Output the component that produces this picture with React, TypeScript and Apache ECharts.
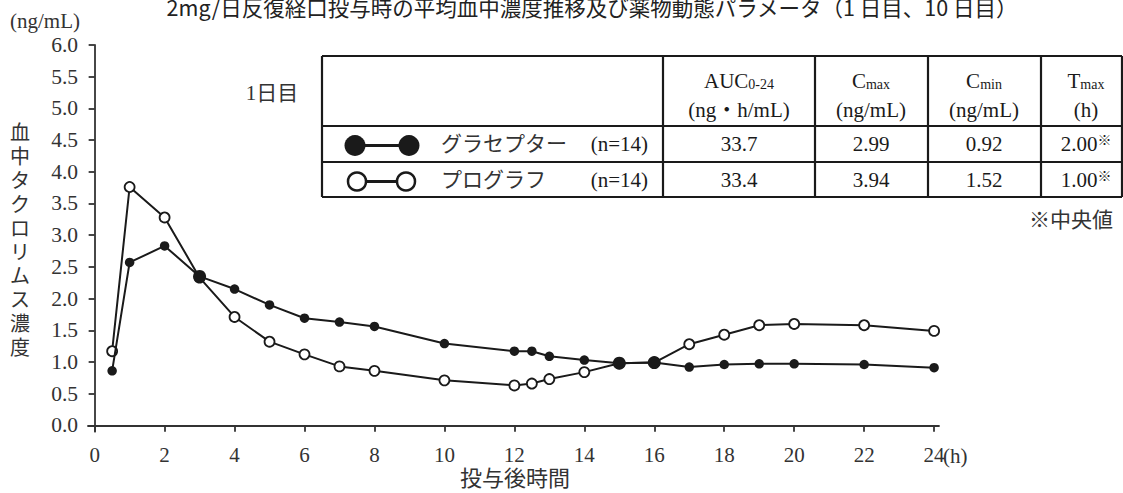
import React, { useEffect, useRef } from 'react';
import * as echarts from 'echarts';

// ---- data ----
const times = [0.5, 1, 2, 3, 4, 5, 6, 7, 8, 10, 12, 12.5, 13, 14, 15, 16, 17, 18, 19, 20, 22, 24];
const graceptor = [0.86, 2.57, 2.83, 2.35, 2.15, 1.9, 1.69, 1.63, 1.56, 1.29, 1.17, 1.17, 1.09, 1.03, 0.98, 0.99, 0.92, 0.96, 0.97, 0.97, 0.96, 0.91];
const prograf = [1.17, 3.76, 3.28, 2.33, 1.71, 1.32, 1.12, 0.93, 0.86, 0.71, 0.63, 0.66, 0.73, 0.84, 0.98, 0.99, 1.28, 1.43, 1.58, 1.6, 1.58, 1.49];
const xTicks = [0, 2, 4, 6, 8, 10, 12, 14, 16, 18, 20, 22, 24];
const yTicks = [0, 0.5, 1, 1.5, 2, 2.5, 3, 3.5, 4, 4.5, 5, 5.5, 6];
const seriesNames = ['グラセプター', 'プログラフ'];
const nLabel = '(n=14)';
const graceptorParams = ['33.7', '2.99', '0.92', '2.00'];
const prografParams = ['33.4', '3.94', '1.52', '1.00'];
const titleText = '2mg/日反復経口投与時の平均血中濃度推移及び薬物動態パラメータ（1 日目、10 日目）';
const yName = '血中タクロリムス濃度';
const xName = '投与後時間';
const unitText = '(ng/mL)';
const dayLabel = '1日目';
const noteText = '※中央値';

const SERIF = 'Liberation Serif, DejaVu Serif, Noto Sans CJK JP, serif';
const JP = 'Noto Sans CJK JP, Noto Sans, sans-serif';
const INK = '#1a1a1a';

export default function App() {
  const ref = useRef<HTMLDivElement>(null);
  useEffect(() => {
    if (!ref.current) return;
    const chart = echarts.init(ref.current, undefined, { renderer: 'svg' });

    const tL = 322, tR = 1122, tTop = 56, tH1 = 126, tH2 = 162, tBot = 197;
    const cols = [663, 815, 928, 1041];
    const centers = [739, 871, 984, 1086];
    const row1 = 144, row2 = 180;

    const hLine = (y: number) => ({ type: 'line', shape: { x1: tL, y1: y, x2: tR, y2: y }, style: { stroke: INK, lineWidth: 2.2 } });
    const vLine = (x: number) => ({ type: 'line', shape: { x1: x, y1: tTop, x2: x, y2: tBot }, style: { stroke: INK, lineWidth: 2.2 } });
    const txt = (x: number, y: number, text: string, size = 21, family = SERIF, align = 'center', fill = INK) => ({
      type: 'text', x, y,
      style: { text, fill, fontFamily: family, fontSize: size, align, verticalAlign: 'middle' },
    });
    const rich = {
      b: { fontFamily: SERIF, fontSize: 21, lineHeight: 21, verticalAlign: 'bottom', color: INK },
      s: { fontFamily: SERIF, fontSize: 14, lineHeight: 21, verticalAlign: 'bottom', color: INK },
      sup: { fontFamily: SERIF, fontSize: 14, lineHeight: 21, verticalAlign: 'top', color: INK },
    };
    const richTxt = (x: number, y: number, text: string) => ({
      type: 'text', x, y,
      style: { text, rich, align: 'center', verticalAlign: 'middle', fill: INK },
    });

    const yNameChars = yName.split('').map((c, i) =>
      txt(20, 133 + i * 23.9, c, 20, SERIF, 'center', '#333'));

    const graphic: any[] = [
      txt(592, 6, titleText, 21.5, JP, 'center', '#222'),
      txt(45, 21, unitText, 21, SERIF, 'center', '#333'),
      ...yNameChars,
      txt(515, 478, xName, 22, SERIF, 'center', '#333'),
      txt(943, 456, '(h)', 21, SERIF, 'left', '#333'),
      txt(272, 93, dayLabel, 21, SERIF, 'center', '#333'),
      txt(1113, 220, noteText, 21, SERIF, 'right', '#333'),
      // table
      hLine(tTop), hLine(tH1), hLine(tH2), hLine(tBot),
      vLine(tL), ...cols.map(vLine), vLine(tR),
      richTxt(centers[0], 81, '{b|AUC}{s|0-24}'),
      txt(centers[0], 110, '(ng・h/mL)'),
      richTxt(centers[1], 81, '{b|C}{s|max}'),
      txt(centers[1], 110, '(ng/mL)'),
      richTxt(centers[2], 81, '{b|C}{s|min}'),
      txt(centers[2], 110, '(ng/mL)'),
      richTxt(centers[3], 81, '{b|T}{s|max}'),
      txt(centers[3], 110, '(h)'),
      ...graceptorParams.map((v, i) => i === 3 ? richTxt(centers[i], row1, `{b|${v}}{sup|※}`) : txt(centers[i], row1, v)),
      ...prografParams.map((v, i) => i === 3 ? richTxt(centers[i], row2, `{b|${v}}{sup|※}`) : txt(centers[i], row2, v)),
      // legend glyphs
      { type: 'line', shape: { x1: 355, y1: 145.5, x2: 409, y2: 145.5 }, style: { stroke: INK, lineWidth: 3 } },
      { type: 'circle', shape: { cx: 355, cy: 145.5, r: 10.5 }, style: { fill: INK } },
      { type: 'circle', shape: { cx: 409, cy: 145.5, r: 10.5 }, style: { fill: INK } },
      { type: 'line', shape: { x1: 357, y1: 181.5, x2: 406, y2: 181.5 }, style: { stroke: INK, lineWidth: 3 } },
      { type: 'circle', shape: { cx: 357, cy: 181.5, r: 9 }, style: { fill: '#fff', stroke: INK, lineWidth: 2.5 } },
      { type: 'circle', shape: { cx: 406, cy: 181.5, r: 9 }, style: { fill: '#fff', stroke: INK, lineWidth: 2.5 } },
      txt(441, row1, seriesNames[0], 21, SERIF, 'left', '#333'),
      txt(648, row1, nLabel, 21, SERIF, 'right'),
      txt(441, row2, seriesNames[1], 21, SERIF, 'left', '#333'),
      txt(648, row2, nLabel, 21, SERIF, 'right'),
    ];

    chart.setOption({
      animation: false,
      backgroundColor: '#fff',
      grid: { left: 88, top: 45, width: 851, height: 386.7, containLabel: false },
      xAxis: {
        type: 'value', min: -0.19, max: 24.14,
        axisLine: { lineStyle: { color: '#333', width: 1.8 } },
        axisTick: { show: true, customValues: xTicks, length: 6.5, lineStyle: { color: '#333', width: 1.8 } },
        axisLabel: { customValues: xTicks, formatter: (v: number) => String(v), fontFamily: SERIF, fontSize: 21, color: '#333', margin: 13 },
        splitLine: { show: false },
      },
      yAxis: {
        type: 'value', min: -0.1, max: 6,
        axisLine: { show: true, lineStyle: { color: '#333', width: 1.8 } },
        axisTick: { show: true, customValues: yTicks, length: 6, lineStyle: { color: '#333', width: 1.8 } },
        axisLabel: { customValues: yTicks, formatter: (v: number) => v.toFixed(1), fontFamily: SERIF, fontSize: 21.5, color: '#333', margin: 10 },
        splitLine: { show: false },
      },
      series: [
        {
          name: seriesNames[1], type: 'line', z: 2,
          data: times.map((t, i) => [t, prograf[i]]),
          symbol: 'circle', symbolSize: 10, showAllSymbol: true,
          itemStyle: { color: '#fff', borderColor: INK, borderWidth: 1.8 },
          lineStyle: { color: INK, width: 2 },
        },
        {
          name: seriesNames[0], type: 'line', z: 3,
          data: times.map((t, i) => [t, graceptor[i]]),
          symbol: 'circle', showAllSymbol: true,
          symbolSize: (_v: any, p: any) => (Math.abs(prograf[p.dataIndex] - graceptor[p.dataIndex]) < 0.05 ? 13 : 9.5),
          itemStyle: { color: INK, borderColor: INK, borderWidth: 0 },
          lineStyle: { color: INK, width: 2 },
        },
      ],
      graphic,
    });
    return () => chart.dispose();
  }, []);
  return <div ref={ref} style={{ position: 'fixed', left: 0, top: 0, width: 1123, height: 493, background: '#fff' }} />;
}
